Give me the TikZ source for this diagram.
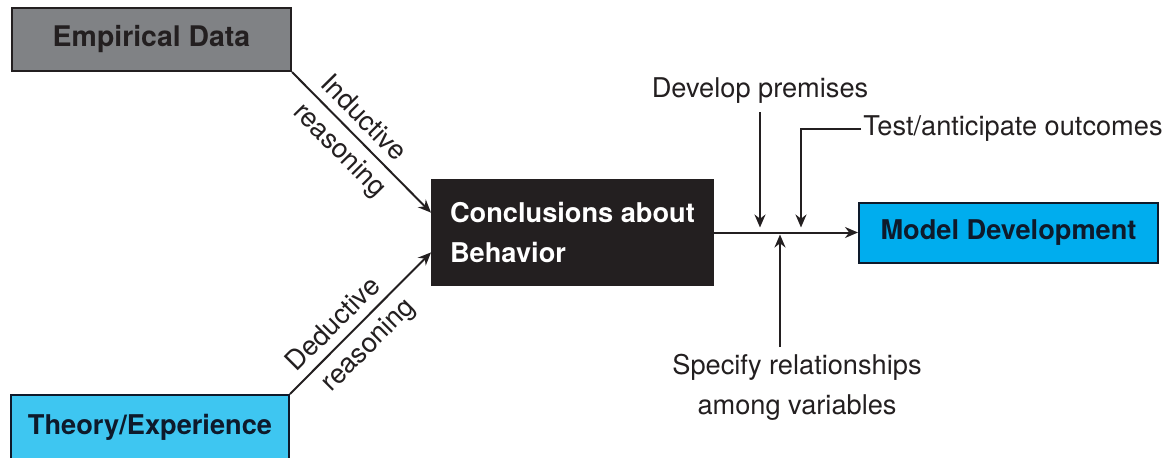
\documentclass[tikz,border=0pt]{standalone}
\usepackage{fontspec}
\setmainfont{TeX Gyre Heros}
\usetikzlibrary{arrows.meta}

\definecolor{inkdark}{HTML}{231F20}
\definecolor{empgray}{HTML}{808285}
\definecolor{theorycyan}{HTML}{3EC6F1}
\definecolor{modelblue}{HTML}{00ADEE}
\definecolor{navyink}{HTML}{0E1A2B}

\tikzset{
  box/.style={draw=inkdark, line width=1pt, inner sep=0pt,
    font=\fontsize{13.6}{20}\selectfont\bfseries},
  lbl/.style={text=inkdark, font=\fontsize{13.6}{20}\selectfont},
  arr/.style={draw=inkdark, line width=1pt, -{Stealth[length=6.5pt,width=5.5pt]}},
}

\begin{document}
\begin{tikzpicture}[x=0.5pt,y=0.5pt]
\useasboundingbox (0,0) rectangle (1175,-457);

% boxes
\node[box, fill=empgray, text=inkdark, minimum width=139.5pt, minimum height=31.5pt,
  font=\fontsize{14.2}{20}\selectfont\bfseries] (emp) at (151.5,-39.5) {Empirical Data};
\node[box, fill=theorycyan, draw=navyink, text=navyink, minimum width=139pt, minimum height=32pt] (theory) at (150,-427) {Theory/Experience};
\node[box, fill=inkdark, text=white, align=left, minimum width=140.5pt, minimum height=52.5pt] (conc) at (572.5,-232.5) {Conclusions about\\Behavior};
\node[box, fill=modelblue, draw=navyink, text=navyink, minimum width=149.5pt, minimum height=30pt] (model) at (1008.5,-232.5) {Model Development};

% side labels
\node[lbl, anchor=south, inner ysep=4pt] (dev) at (760,-112) {Develop premises};
\node[lbl, anchor=west, inner xsep=1pt] (test) at (861,-129) {Test/anticipate outcomes};
\node[lbl, anchor=north, align=center, inner ysep=3.5pt] (spec) at (797,-347) {Specify relationships\\among variables};

% reasoning arrows
\draw[arr] (emp.south east) -- node[lbl, sloped, pos=0.42, above=1pt] {Inductive}
  node[lbl, sloped, pos=0.45, below=1pt] {reasoning} (conc.172);
\draw[arr] (theory.north east) -- node[lbl, sloped, pos=0.40, above=1pt] {Deductive}
  node[lbl, sloped, pos=0.45, below=1pt] {reasoning} (conc.188);

% main line
\draw[arr] (conc.east) -- (model.west);
\draw[arr, shorten >=2.5pt] (dev.south) -- (dev.south |- conc.east);
\draw[arr, shorten >=2.5pt] (test.west) -| ([xshift=-30pt]test.west |- conc.east);
\draw[arr, shorten >=1pt] ([xshift=-8.5pt]spec.north) -- ([xshift=-8.5pt]spec.north |- conc.east);

\end{tikzpicture}
\end{document}
